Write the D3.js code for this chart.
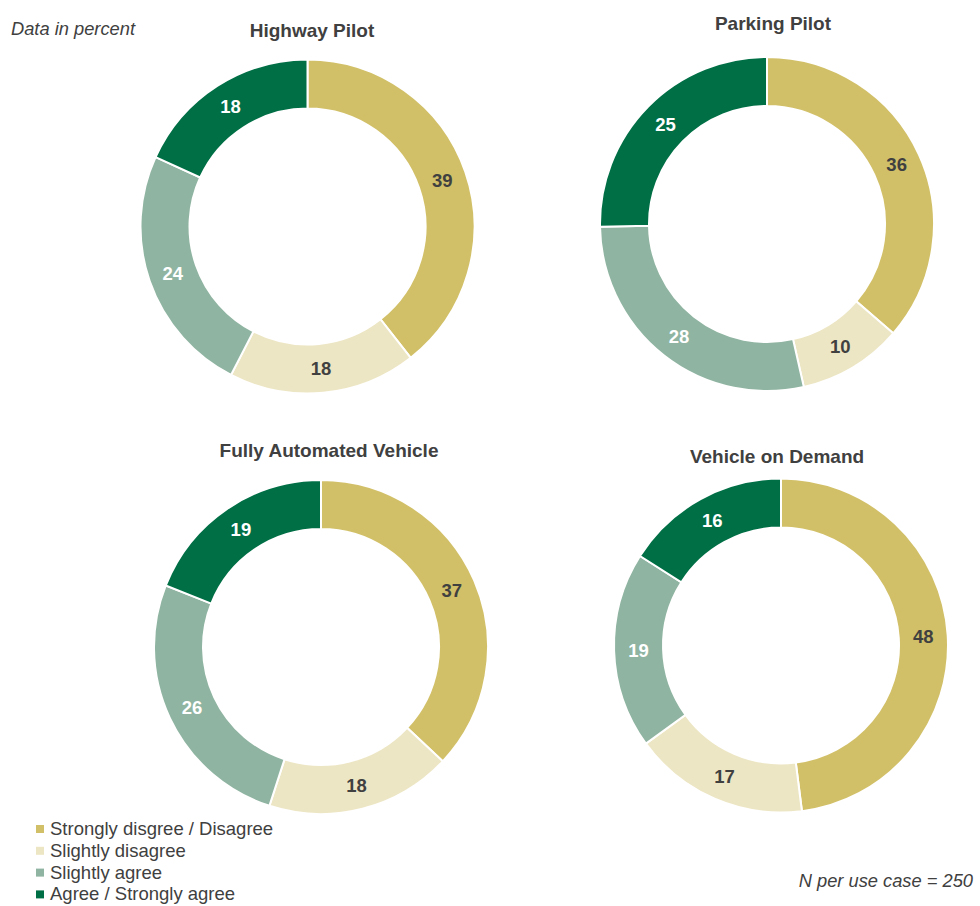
<!DOCTYPE html>
<html>
<head>
<meta charset="utf-8">
<script src="https://cdn.jsdelivr.net/npm/d3@7"></script>
<style>
  html, body { margin: 0; padding: 0; background: #fff; }
  svg { display: block; font-family: "Liberation Sans", Arial, Helvetica, sans-serif; }
</style>
</head>
<body>
<svg id="chart" width="980" height="906"></svg>
<script>
// ---- Data ----
const categories = ["Strongly disgree / Disagree", "Slightly disagree", "Slightly agree", "Agree / Strongly agree"];
const useCases = ["Highway Pilot", "Parking Pilot", "Fully Automated Vehicle", "Vehicle on Demand"];
const highwayPilot = [39, 18, 24, 18];
const parkingPilot = [36, 10, 28, 25];
const fullyAutomatedVehicle = [37, 18, 26, 19];
const vehicleOnDemand = [48, 17, 19, 16];
const seriesValues = [highwayPilot, parkingPilot, fullyAutomatedVehicle, vehicleOnDemand];
const colors = ["#D2C068", "#EDE6C4", "#8FB4A1", "#006F46"];
const labelColors = ["#404040", "#404040", "#ffffff", "#ffffff"];
const subtitle = "Data in percent";
const footnote = "N per use case = 250";

// ---- Layout ----
const svg = d3.select("#chart");
const textColor = "#404040";
const layout = [
  { cx: 307.5, cy: 226.5, tx: 312, ty: 36.5 },
  { cx: 767,   cy: 224,   tx: 773, ty: 30 },
  { cx: 321,   cy: 647,   tx: 329, ty: 457 },
  { cx: 781,   cy: 645.5, tx: 777, ty: 463 }
];
const outerR = 167, innerR = 118;

const pie = d3.pie().sort(null).value(d => d).startAngle(0).endAngle(2 * Math.PI);
const arc = d3.arc().innerRadius(innerR).outerRadius(outerR);
const color = d3.scaleOrdinal().domain(d3.range(categories.length)).range(colors);
const lblColor = d3.scaleOrdinal().domain(d3.range(categories.length)).range(labelColors);

useCases.forEach((name, i) => {
  const L = layout[i];
  svg.append("text")
    .attr("x", L.tx).attr("y", L.ty)
    .attr("text-anchor", "middle")
    .attr("font-size", 19).attr("font-weight", "bold")
    .attr("fill", textColor)
    .text(name);

  const g = svg.append("g").attr("transform", `translate(${L.cx},${L.cy})`);
  const arcs = pie(seriesValues[i]);
  g.selectAll("path").data(arcs).join("path")
    .attr("d", arc)
    .attr("fill", (d, j) => color(j))
    .attr("stroke", "#fff")
    .attr("stroke-width", 2);
  g.selectAll("text").data(arcs).join("text")
    .attr("transform", d => `translate(${arc.centroid(d)})`)
    .attr("text-anchor", "middle")
    .attr("dy", "0.36em")
    .attr("font-size", 18.5).attr("font-weight", "bold")
    .attr("fill", (d, j) => lblColor(j))
    .text(d => d.data);
});

// subtitle
svg.append("text")
  .attr("x", 11).attr("y", 35)
  .attr("font-size", 18.3).attr("font-style", "italic")
  .attr("fill", textColor)
  .text(subtitle);

// footnote
svg.append("text")
  .attr("x", 973).attr("y", 887)
  .attr("text-anchor", "end")
  .attr("font-size", 18.3).attr("font-style", "italic")
  .attr("fill", textColor)
  .text(footnote);

// legend
const legend = svg.append("g");
const lg = legend.selectAll("g").data(categories).join("g")
  .attr("transform", (d, j) => `translate(0, ${835 + j * 21.8})`);
lg.append("rect")
  .attr("x", 36).attr("y", -10).attr("width", 8).attr("height", 8)
  .attr("fill", (d, j) => color(j));
lg.append("text")
  .attr("x", 50).attr("y", 0)
  .attr("font-size", 18.5)
  .attr("fill", textColor)
  .text(d => d);
</script>
</body>
</html>
